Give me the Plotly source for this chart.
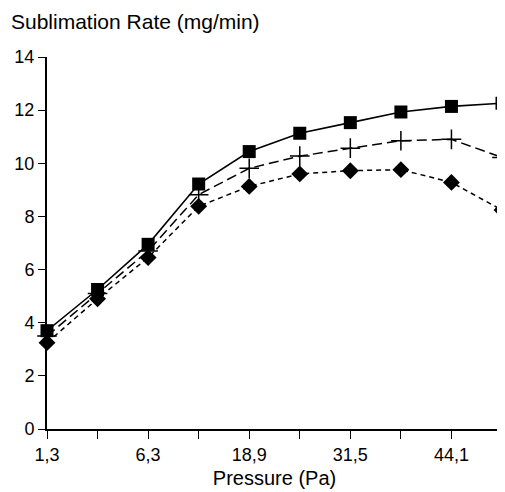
import plotly.graph_objects as go

# Pressure categories (Pa), only every other one is labelled on the axis
pressure = ["1,3", "3,8", "6,3", "12,6", "18,9", "25,2", "31,5", "37,8", "44,1", "50,4"]
tick_labels = ["1,3", "", "6,3", "", "18,9", "", "31,5", "", "44,1", ""]

# Sublimation rate (mg/min) for the three series
rate_square = [3.7, 5.25, 6.95, 9.22, 10.44, 11.13, 11.53, 11.93, 12.14, 12.26]
rate_plus = [3.5, 5.1, 6.7, 8.82, 9.81, 10.27, 10.57, 10.85, 10.9, 10.22]
rate_diamond = [3.25, 4.9, 6.45, 8.38, 9.13, 9.6, 9.72, 9.76, 9.28, 8.24]

FONT = "Liberation Sans, Arial, sans-serif"

fig = go.Figure()

fig.add_trace(go.Scatter(
    x=pressure, y=rate_diamond, mode="lines+markers", cliponaxis=False,
    line=dict(color="black", width=1.5, dash="5px,4px"),
    marker=dict(symbol="diamond", size=13, color="black"),
))
fig.add_trace(go.Scatter(
    x=pressure, y=rate_plus, mode="lines+markers", cliponaxis=False,
    line=dict(color="black", width=1.5, dash="10px,5px"),
    marker=dict(symbol="cross-thin", size=14, color="black",
                line=dict(color="black", width=1.5)),
))
fig.add_trace(go.Scatter(
    x=pressure, y=rate_square, mode="lines+markers", cliponaxis=False,
    line=dict(color="black", width=1.6),
    marker=dict(symbol="square", size=13, color="black"),
))

# the page body adds an 8px margin, so the figure is 8px smaller
fig.update_layout(
    width=497, height=484,
    margin=dict(l=39, r=3, t=49, b=63),
    paper_bgcolor="white", plot_bgcolor="white",
    showlegend=False,
    font=dict(family=FONT, size=18, color="black"),
    annotations=[dict(
        text="Sublimation Rate (mg/min)", xref="paper", yref="paper",
        x=-0.083, y=1.0, yshift=36, xanchor="left", yanchor="middle",
        showarrow=False, font=dict(family=FONT, size=21, color="black"),
    )],
)

fig.update_xaxes(
    type="category", range=[0, 9], automargin=False,
    tickvals=pressure, ticktext=tick_labels,
    ticks="outside", ticklen=8, tickwidth=1.2, tickcolor="black",
    showline=True, linecolor="black", linewidth=2,
    showgrid=False, zeroline=False,
    title=dict(text="Pressure (Pa)", standoff=7, font=dict(size=20)),
    tickfont=dict(size=18),
)
fig.update_yaxes(
    range=[0, 14], dtick=2, automargin=False,
    ticks="outside", ticklen=7, tickwidth=1.2, tickcolor="black",
    showline=True, linecolor="black", linewidth=2,
    showgrid=False, zeroline=False,
    tickfont=dict(size=18),
)

fig.write_html("out.html")
